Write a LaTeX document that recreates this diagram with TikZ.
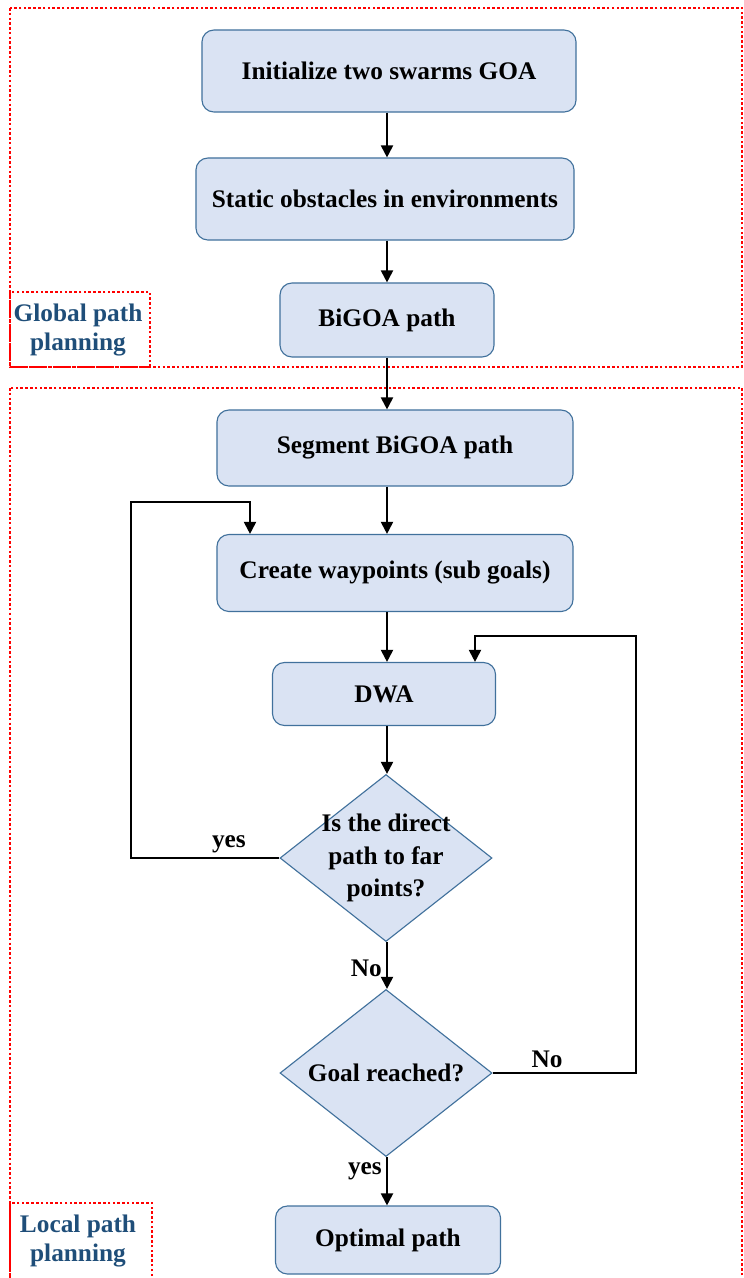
\documentclass[tikz,border=0pt]{standalone}
\usepackage{fontspec}
\setmainfont{Liberation Serif}
\usetikzlibrary{shapes.geometric,arrows.meta}
\definecolor{boxfill}{HTML}{DAE3F3}
\definecolor{boxline}{HTML}{41719C}
\definecolor{lbltext}{HTML}{1F4E79}
\tikzset{
  txt/.style={font=\fontsize{18}{21}\selectfont\bfseries, align=center},
  stepbox/.style={txt, draw=boxline, fill=boxfill, rounded corners=0.3cm, line width=0.8pt, inner sep=0pt},
  decbox/.style={diamond, draw=boxline, fill=boxfill, line width=0.8pt, inner sep=0pt, minimum width=5.3cm, minimum height=4.175cm},
  arr/.style={line width=1.4pt, -{Triangle[length=0.3cm, width=0.3cm]}},
  zone/.style={draw=red, line width=1.8pt, dash pattern=on 1.8pt off 1.6pt},
  zonetxt/.style={txt, text=lbltext},
  lbl/.style={txt, inner sep=3pt}
}
\begin{document}
\begin{tikzpicture}[x=0.025cm, y=-0.025cm]
\useasboundingbox (0,0) rectangle (744,1278);
% planning zones
\draw[zone] (10,8) rectangle (742,367);
\draw[zone] (10,292) rectangle (150,367);
\draw[zone] (10,388) rectangle (742,1300);
\draw[zone] (10,1203) rectangle (152,1300);
\node[zonetxt] (glbl) at (78,330) {Global path\\planning};
\node[zonetxt] (llbl) at (78,1241) {Local path\\planning};
% steps
\node[stepbox, minimum width=9.35cm, minimum height=2.05cm] (init) at (389,71) {Initialize two swarms GOA};
\node[stepbox, minimum width=9.45cm, minimum height=2.05cm] (stat) at (385,199) {Static obstacles in environments};
\node[stepbox, minimum width=5.35cm, minimum height=1.85cm] (bigoa) at (387,320) {BiGOA path};
\node[stepbox, minimum width=8.9cm, minimum height=1.9cm] (seg) at (395,448) {Segment BiGOA path};
\node[stepbox, minimum width=8.9cm, minimum height=1.925cm] (wayp) at (395,573) {Create waypoints (sub goals)};
\node[stepbox, minimum width=5.575cm, minimum height=1.575cm] (dwa) at (384,694) {DWA};
\node[decbox, label={[txt, font=\fontsize{18}{23}\selectfont\bfseries]center:Is the direct\\path to far\\points?}] (far) at (386,858) {};
\node[decbox, label={[txt]center:Goal reached?}] (goal) at (386,1073) {};
\node[stepbox, minimum width=5.625cm, minimum height=1.7cm] (opt) at (388,1240) {Optimal path};
% connectors
\coordinate (spine) at (387,0);
\draw[arr] (init.south -| spine) -- (stat.north -| spine);
\draw[arr] (stat.south -| spine) -- (bigoa.north -| spine);
\draw[arr] (bigoa.south -| spine) -- (seg.north -| spine);
\draw[arr] (seg.south -| spine) -- (wayp.north -| spine);
\draw[arr] (wayp.south -| spine) -- (dwa.north -| spine);
\draw[arr] (dwa.south -| spine) -- (far.north -| spine);
\draw[arr] (far.south -| spine) -- node[lbl, left, pos=0.55]{No} (goal.north -| spine);
\draw[arr] (goal.south -| spine) -- node[lbl, left, pos=0.3]{yes} (opt.north -| spine);
\coordinate (lpa) at (131,502);
\coordinate (lpb) at (250,502);
\draw[arr] (far.west) -- node[lbl, above, pos=0.34]{yes} (far.west -| lpa) -- (lpa) -- (lpb) -- (lpb |- wayp.north);
\coordinate (rpa) at (636,636);
\coordinate (rpb) at (475,636);
\draw[arr] (goal.east) -- node[lbl, above, pos=0.38]{No} (goal.east -| rpa) -- (rpa) -- (rpb) -- (rpb |- dwa.north);
\end{tikzpicture}
\end{document}
